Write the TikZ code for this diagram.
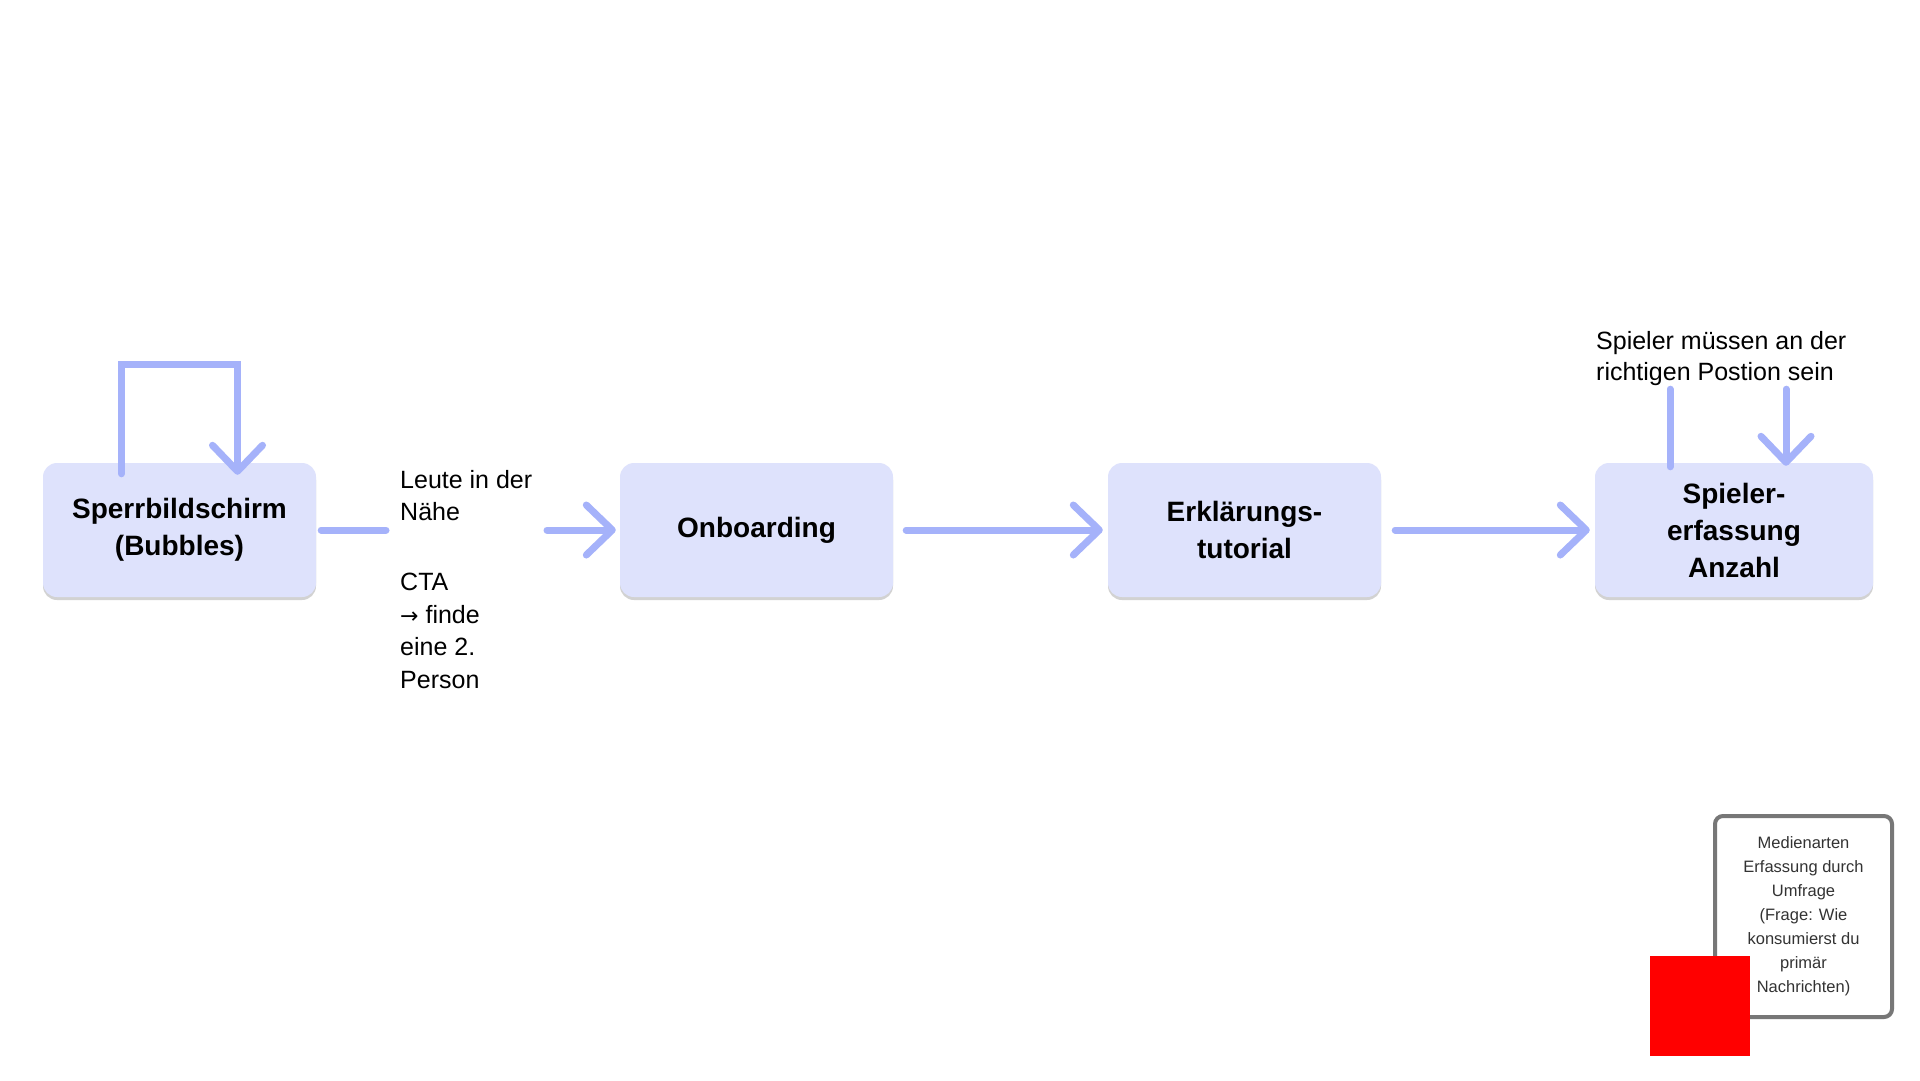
\documentclass[tikz,border=0pt]{standalone}
\usepackage{fontspec}
\setmainfont{Liberation Sans}
\newfontfamily\arrowfont{DejaVu Sans}
\usepackage{tikz}
\usetikzlibrary{arrows.meta,positioning,calc,shadows}
\definecolor{flowblue}{HTML}{A5B2FA}
\definecolor{boxfill}{HTML}{DEE2FC}
\definecolor{notegray}{HTML}{777777}
\definecolor{notetext}{HTML}{333333}
\tikzstyle{stepbox}=[rectangle, rounded corners=14pt, fill=boxfill, minimum width=273pt, minimum height=134pt, align=center, inner sep=4pt, font=\fontsize{28}{37}\selectfont\bfseries, drop shadow={shadow xshift=0pt, shadow yshift=-3pt, opacity=0.35, fill=black!50}]

\begin{document}
\begin{tikzpicture}[x=1pt,y=-1pt,
  flow/.style={draw=flowblue, line width=7pt, line cap=round, -{Straight Barb[length=26pt,width=50pt,round]}},
  flowline/.style={draw=flowblue, line width=7pt, line cap=round},
  note/.style={anchor=north west, inner sep=0pt, align=left, font=\fontsize{25}{32.5}\selectfont}]
\fill[white] (0,0) rectangle (1920,1080);
\useasboundingbox (0,0) rectangle (1920,1080);

\node (sperr) at (179.5,530)[stepbox] {Sperrbildschirm\\(Bubbles)};
\node (onb) at (756.5,530)[stepbox] {Onboarding};
\node (erk) at (1244.5,530)[stepbox] {Erklärungs-\\tutorial};
\node (spieler) at (1734,530)[stepbox, minimum width=278pt] {Spieler-\\erfassung\\Anzahl};

\node (cta) at (400,470)[note] {Leute in der\\Nähe\\[37.5pt]CTA\\{\arrowfont\fontsize{22}{32.5}\selectfont →} finde\\eine 2.\\Person};
\node (posnote) at (1596,331)[note, font=\fontsize{25}{31.5}\selectfont] {Spieler müssen an der\\richtigen Postion sein};

% loop on the lock screen
\draw[flow] ([shift={(-58,11)}]sperr.north) -- ++(0,-109) -| ([shift={(58,12)}]sperr.north);

\coordinate (ctaL) at (386,530);
\coordinate (ctaR) at (547,530);
\draw[flowline] ([xshift=5pt]sperr.east) -- (ctaL);
\draw[flow] (ctaR) -- ([xshift=-4pt]onb.west);
\draw[flow] ([xshift=13pt]onb.east) -- ([xshift=-5pt]erk.west);
\draw[flow] ([xshift=14pt]erk.east) -- ([xshift=-5pt]spieler.west);

\draw[flowline] ([shift={(-64,3)}]spieler.north |- posnote.south) -- ([shift={(-64,4)}]spieler.north);
\draw[flow] ([shift={(52,3)}]spieler.north |- posnote.south) -- ([shift={(52,3)}]spieler.north);

\node (medien) at (1803.5,916.5)[rectangle, rounded corners=8pt, draw=notegray, line width=4pt, fill=white, minimum width=177pt, minimum height=201pt, align=center, text=notetext, font=\fontsize{16.5}{24}\selectfont] {Medienarten\\Erfassung durch\\Umfrage\\(Frage: Wie\\konsumierst du\\primär\\Nachrichten)};
\node (redsq) at (1700,1006)[fill=red, minimum size=100pt, inner sep=0pt] {};
\end{tikzpicture}
\end{document}
